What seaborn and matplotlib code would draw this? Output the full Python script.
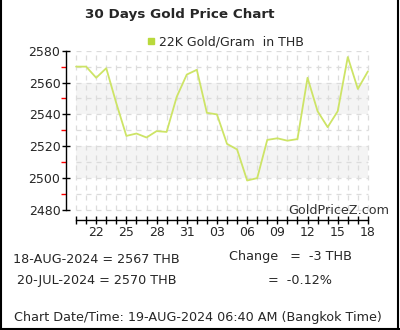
import pandas as pd
import matplotlib.pyplot as plt
import matplotlib.dates as mdates
from matplotlib.lines import Line2D
import seaborn as sns

# 30 daily prices, 20-JUL-2024 .. 18-AUG-2024 (22K gold, THB per gram)
dates = pd.date_range("2024-07-20", "2024-08-18", freq="D")
prices = [2570, 2570, 2563, 2569, 2547, 2526.5, 2528, 2525.5, 2529.5, 2529,
          2551, 2565, 2568, 2541, 2540, 2521.5, 2518, 2498.5, 2500, 2524,
          2525, 2523.5, 2524.5, 2563, 2542, 2532, 2542, 2576, 2556, 2567]
y_major = [2480, 2500, 2520, 2540, 2560, 2580]
y_minor = [2490, 2510, 2530, 2550, 2570]
bands = [(2500, 2520), (2540, 2560)]
series_name = "22K Gold/Gram  in THB"

sns.set_style("white")
plt.rcParams['font.family'] = ['DejaVu Sans']

df = pd.DataFrame({"date": dates, "price": prices})

fig = plt.figure(figsize=(4, 3.3), dpi=100)
ax = fig.add_axes([0.165, 0.3333, 0.76, 0.5131])

# background bands + dashed grid
for lo, hi in bands:
    ax.fill_between([dates[0], dates[-1]], lo, hi, color="#f4f4f4", lw=0, zorder=0)
ax.hlines(y_major + y_minor, dates[0], dates[-1], colors="#dcdcdc",
          linestyles=(0, (4, 4)), lw=0.9, zorder=1)
ax.vlines(dates, y_major[0], y_major[-1], colors="#dcdcdc",
          linestyles=(0, (4, 4)), lw=0.9, zorder=1)

sns.lineplot(data=df, x="date", y="price", color="#cde466", lw=1.3, ax=ax, zorder=3)

ax.set_xlim(dates[0] - pd.Timedelta(days=1), dates[-1] + pd.Timedelta(hours=5))
ax.set_ylim(2473.7, 2580)
ax.set_xlabel("")
ax.set_ylabel("")

for s in ["top", "right"]:
    ax.spines[s].set_visible(False)
ax.spines["left"].set_bounds(y_major[0], y_major[-1])
ax.spines["bottom"].set_bounds(mdates.date2num(dates[0]), mdates.date2num(dates[-1]))
for s in ["left", "bottom"]:
    ax.spines[s].set_color("black")
    ax.spines[s].set_linewidth(1)

ax.set_yticks(y_major)
ax.set_yticks(y_minor, minor=True)
ax.tick_params(axis="y", which="major", left=True, direction="inout", length=6, width=1,
               color="black", labelsize=9, pad=1)
ax.tick_params(axis="y", which="minor", left=True, direction="out", length=3.5, width=1,
               color="red")

ax.set_xticks(dates)
ax.set_xticklabels([d.strftime("%d") if i % 3 == 2 else "" for i, d in enumerate(dates)])
ax.tick_params(axis="x", which="major", bottom=True, direction="inout", length=6, width=1,
               color="black", labelsize=9, pad=1)
ax.tick_params(axis="x", which="minor", length=0)

# legend
ax.legend(handles=[Line2D([], [], marker="s", ls="none", color="#b9d93c", markersize=5)],
          labels=[series_name], loc="center left", bbox_to_anchor=(0.345, 0.873),
          bbox_transform=fig.transFigure, frameon=False, fontsize=9,
          handletextpad=0.2, handlelength=1.0, borderpad=0)

fig.text(0.449, 0.955, "30 Days Gold Price Chart", ha="center", va="center",
         fontsize=9.7, fontweight="bold")
fig.text(0.9725, 0.3636, "GoldPriceZ.com", ha="right", va="center",
         fontsize=9.2, color="#333333")
fig.text(0.0325, 0.215, "18-AUG-2024 = 2567 THB", ha="left", va="center", fontsize=9.2)
fig.text(0.0425, 0.1515, "20-JUL-2024 = 2570 THB", ha="left", va="center", fontsize=9.2)
fig.text(0.5725, 0.224, "Change   =  -3 THB", ha="left", va="center", fontsize=9.2)
fig.text(0.67, 0.1515, "=  -0.12%", ha="left", va="center", fontsize=9.2)
fig.text(0.035, 0.0364, "Chart Date/Time: 19-AUG-2024 06:40 AM (Bangkok Time)",
         ha="left", va="center", fontsize=9.2)

# outer frame (left, right, bottom)
for xs, ys in [([0.002, 0.002], [0, 1]), ([0.996, 0.996], [0, 1]), ([0, 1], [0.004, 0.004])]:
    fig.add_artist(Line2D(xs, ys, transform=fig.transFigure, color="black", lw=1.5))

fig.savefig("out.png", dpi=100)
